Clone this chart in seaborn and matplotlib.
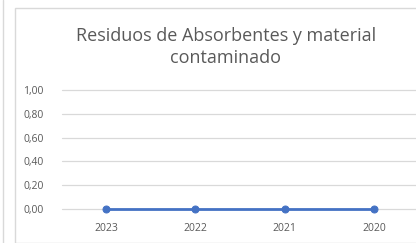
import matplotlib
matplotlib.use("Agg")
import matplotlib.pyplot as plt
import seaborn as sns
import pandas as pd
from matplotlib.patches import Rectangle
from matplotlib.lines import Line2D

years = ["2023", "2022", "2021", "2020"]
values = [0.0, 0.0, 0.0, 0.0]
yticks = [0.0, 0.2, 0.4, 0.6, 0.8, 1.0]
title = "Residuos de Absorbentes y material\ncontaminado"

sns.set_theme(style="white")
plt.rcParams["font.family"] = ["Open Sans", "DejaVu Sans"]

W, H = 416, 243
fig = plt.figure(figsize=(W / 100, H / 100), dpi=100)
fig.patch.set_facecolor("white")

# chart frame
fig.add_artist(Rectangle((15 / W, 0 / H), (W - 15) / W + 0.01, (H - 8) / H,
                         transform=fig.transFigure, fill=False,
                         edgecolor="#d9d9d9", linewidth=1.0))
fig.add_artist(Line2D([3 / W, 3 / W], [0, 1], transform=fig.transFigure,
                      color="#d9d9d9", linewidth=1.0))

left, right = 61.5, 418.5
top, bottom = 90, 209
ax = fig.add_axes([left / W, 1 - bottom / H, (right - left) / W, (bottom - top) / H])
ax.set_facecolor("none")

df = pd.DataFrame({"year": years, "value": values})
sns.lineplot(data=df, x="year", y="value", ax=ax, color="#4472C4", linewidth=2.0,
             marker="o", markersize=5, markeredgecolor="#4472C4", sort=False,
             clip_on=False, zorder=5)

ax.set_xlim(-0.5, len(years) - 0.5)
ax.set_ylim(0, 1.0)
ax.set_yticks(yticks)
ax.set_yticklabels([f"{v:.2f}".replace(".", ",") for v in yticks])
for y in yticks:
    ax.axhline(y, color="#d9d9d9", linewidth=0.9, zorder=0, clip_on=False)
for s in ax.spines.values():
    s.set_visible(False)
ax.tick_params(axis="both", length=0, labelsize=7.5, colors="#595959")
ax.tick_params(axis="y", pad=13)
ax.tick_params(axis="x", pad=10)
ax.set_xlabel("")
ax.set_ylabel("")

fig.text(226 / W, 1 - 47 / H, title, ha="center", va="center",
         fontsize=13, color="#595959", linespacing=1.3)

fig.savefig("out.png", dpi=100, facecolor="white")
